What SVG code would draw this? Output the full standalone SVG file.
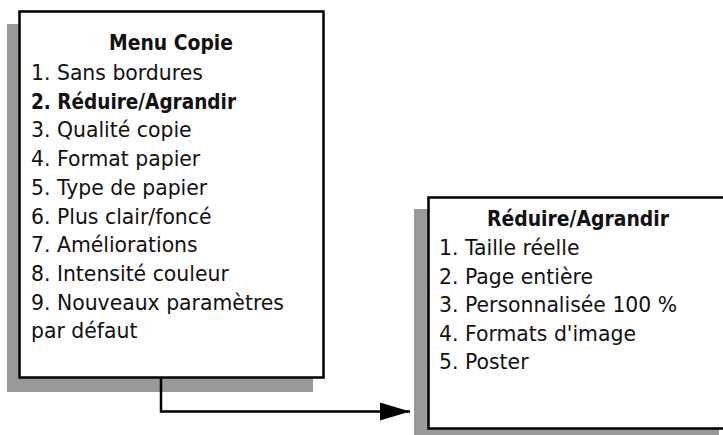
<svg xmlns="http://www.w3.org/2000/svg" width="723" height="435" viewBox="0 0 723 435">
  <style>
    .shadow { fill: #999999; }
    .box { fill: #ffffff; stroke: #000000; stroke-width: 2.5; }
    .t { font-family: "DejaVu Sans", "Liberation Sans", sans-serif; font-size: 20.4px; fill: #111111; }
    .b { font-weight: bold; }
    .conn { fill: none; stroke: #000000; stroke-width: 2.5; }
  </style>
  <defs>
    <marker id="arrow" markerUnits="userSpaceOnUse" markerWidth="32" markerHeight="20" refX="30" refY="9" orient="auto">
      <polygon points="0,0 30,9 0,18" fill="#000000"/>
    </marker>
  </defs>
  <rect width="723" height="435" fill="#ffffff"/>

  <g id="menu-copie">
    <rect class="shadow" x="7" y="24" width="306" height="368"/>
    <rect class="box" x="19.5" y="11.5" width="304" height="366"/>
    <text class="t b" x="171" y="50" text-anchor="middle" textLength="124" lengthAdjust="spacingAndGlyphs">Menu Copie</text>
    <text class="t" x="31" y="80">1. Sans bordures</text>
    <text class="t b" x="31" y="108.7" textLength="205" lengthAdjust="spacingAndGlyphs">2. Réduire/Agrandir</text>
    <text class="t" x="31" y="137.4">3. Qualité copie</text>
    <text class="t" x="31" y="166.1">4. Format papier</text>
    <text class="t" x="31" y="194.8">5. Type de papier</text>
    <text class="t" x="31" y="223.5">6. Plus clair/foncé</text>
    <text class="t" x="31" y="252.2">7. Améliorations</text>
    <text class="t" x="31" y="280.9">8. Intensité couleur</text>
    <text class="t" x="31" y="309.6">9. Nouveaux paramètres</text>
    <text class="t" x="31" y="338.3">par défaut</text>
  </g>

  <g id="reduire-agrandir">
    <rect class="shadow" x="414" y="209" width="305" height="230"/>
    <rect class="box" x="428.5" y="197.5" width="300" height="231"/>
    <text class="t b" x="578" y="226" text-anchor="middle" textLength="182" lengthAdjust="spacingAndGlyphs">Réduire/Agrandir</text>
    <text class="t" x="439" y="255">1. Taille réelle</text>
    <text class="t" x="439" y="283.5">2. Page entière</text>
    <text class="t" x="439" y="312">3. Personnalisée 100 %</text>
    <text class="t" x="439" y="340.5">4. Formats d'image</text>
    <text class="t" x="439" y="369">5. Poster</text>
  </g>

  <g id="connectors">
    <path class="conn" d="M161,378 V411.5 H410" marker-end="url(#arrow)"/>
  </g>
</svg>
